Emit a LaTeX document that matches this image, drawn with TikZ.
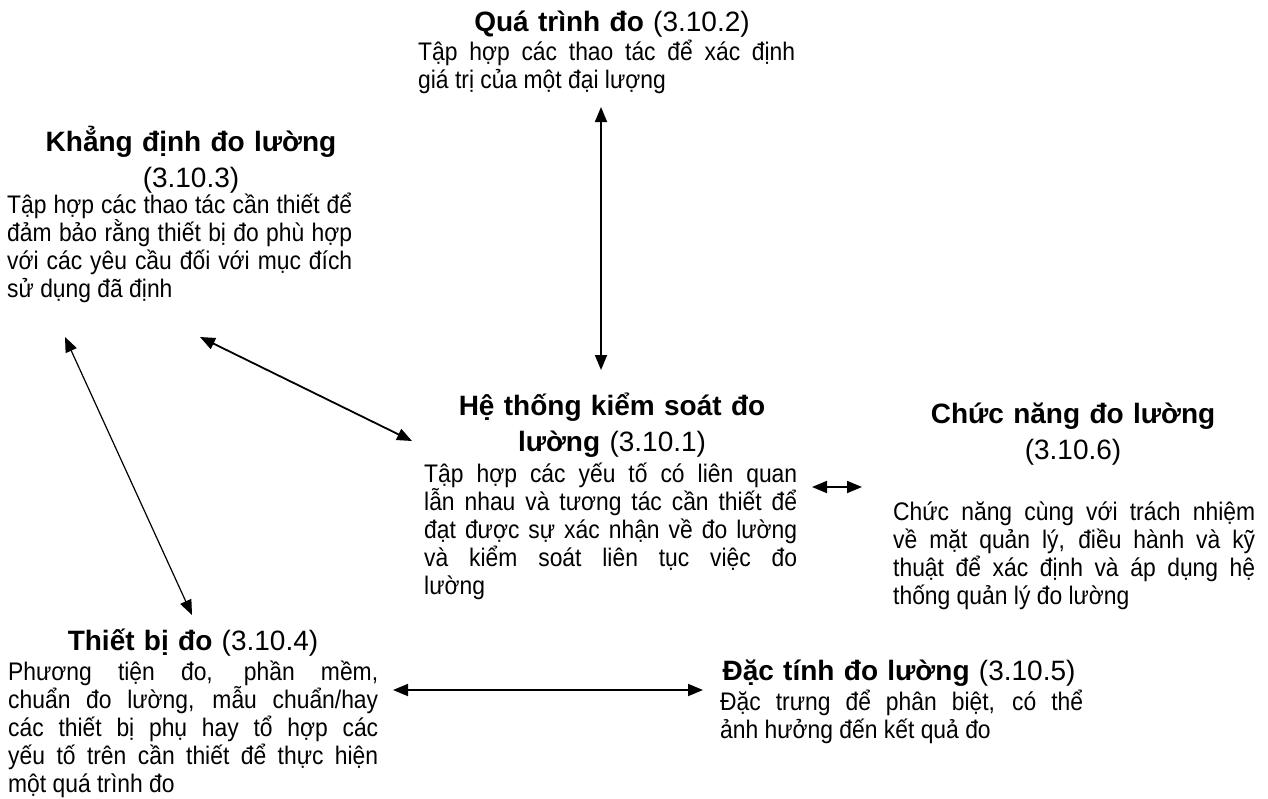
\documentclass[tikz,border=0pt]{standalone}
\usepackage{fontspec}
\setmainfont{Liberation Sans}
\newfontfamily\bodyfont{Liberation Sans}[FakeStretch=0.9]
\usetikzlibrary{arrows.meta}
\hyphenpenalty=10000
\tolerance=10000
\begin{document}
\begin{tikzpicture}[x=1pt,y=-1pt,
  ttl/.style={font=\fontsize{28}{36}\selectfont, text width=420pt, align=center, inner sep=0pt, anchor=base},
  bod/.style={font=\bodyfont\fontsize{25.4}{28.2}\selectfont, align=justify, inner sep=0pt, anchor=base west},
  link/.style={{Triangle[length=15pt,width=12pt]}-{Triangle[length=15pt,width=12pt]}, line width=1.8pt},
  thinlink/.style={{Triangle[length=15pt,width=12pt]}-{Triangle[length=15pt,width=12pt]}, line width=1.2pt},
]
\useasboundingbox (0,0) rectangle (1268,798);

% Quá trình đo
\node[ttl] (qtt) at (612,31) {\textbf{Quá trình đo} (3.10.2)};
\node[bod, text width=377pt] (qtb) at (418,60) {Tập hợp các thao tác để xác định\linebreak giá trị của một đại lượng};

% Khẳng định đo lường
\node[ttl] (kdt) at (191,151) {\textbf{Khẳng định đo lường}\\(3.10.3)};
\node[bod, text width=345pt] (kdb) at (7,213) {Tập hợp các thao tác cần thiết để\linebreak đảm bảo rằng thiết bị đo phù hợp\linebreak với các yêu cầu đối với mục đích\linebreak sử dụng đã định};

% Hệ thống kiểm soát đo lường
\node[ttl] (htt) at (612,415) {\textbf{Hệ thống kiểm soát đo}\\\textbf{lường} (3.10.1)};
\node[bod, text width=373pt] (htb) at (424,482) {Tập hợp các yếu tố có liên quan\linebreak lẫn nhau và tương tác cần thiết để\linebreak đạt được sự xác nhận về đo lường\linebreak và kiểm soát liên tục việc đo\linebreak lường};

% Chức năng đo lường
\node[ttl] (cnt) at (1073,423) {\textbf{Chức năng đo lường}\\(3.10.6)};
\node[bod, text width=362pt] (cnb) at (893,520) {Chức năng cùng với trách nhiệm\linebreak về mặt quản lý, điều hành và kỹ\linebreak thuật để xác định và áp dụng hệ\linebreak thống quản lý đo lường};

% Thiết bị đo
\node[ttl] (tbt) at (193,650) {\textbf{Thiết bị đo} (3.10.4)};
\node[bod, text width=370pt] (tbb) at (8,680) {Phương tiện đo, phần mềm,\linebreak chuẩn đo lường, mẫu chuẩn/hay\linebreak các thiết bị phụ hay tổ hợp các\linebreak yếu tố trên cần thiết để thực hiện\linebreak một quá trình đo};

% Đặc tính đo lường
\node[ttl] (dtt) at (899,680) {\textbf{Đặc tính đo lường} (3.10.5)};
\node[bod, text width=363pt] (dtb) at (720,710) {Đặc trưng để phân biệt, có thể\linebreak ảnh hưởng đến kết quả đo};

% connector ends
\coordinate (qt-end) at (601,107);
\coordinate (ht-top) at (601,370);
\coordinate (kd-right) at (200,337);
\coordinate (ht-left) at (412,441);
\coordinate (kd-left) at (65,337);
\coordinate (tb-top) at (192,615);
\coordinate (ht-right) at (812,487);
\coordinate (cn-left) at (862,487);
\coordinate (tb-right) at (393,690);
\coordinate (dt-left) at (703,690);

\draw[link] (qt-end) -- (ht-top);
\draw[link] (kd-right) -- (ht-left);
\draw[thinlink] (kd-left) -- (tb-top);
\draw[link] (ht-right) -- (cn-left);
\draw[link] (tb-right) -- (dt-left);
\end{tikzpicture}
\end{document}
